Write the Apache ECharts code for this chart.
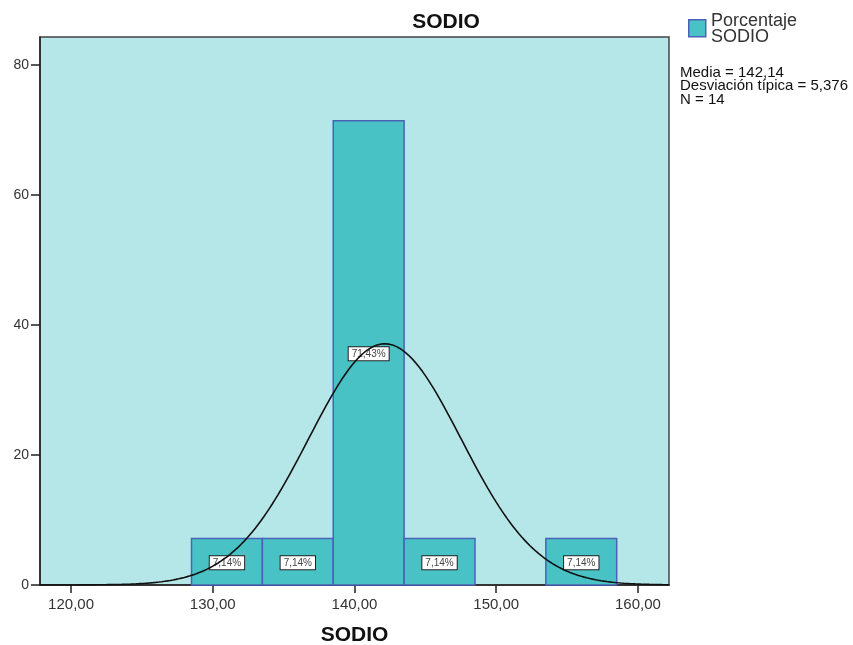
<!DOCTYPE html>
<html>
<head>
<meta charset="utf-8">
<script src="https://cdn.jsdelivr.net/npm/echarts@6/dist/echarts.min.js"></script>
<style>
  html, body { margin: 0; padding: 0; background: #ffffff; }
  #chart { width: 853px; height: 645px; }
</style>
</head>
<body>
<div id="chart"></div>
<script>
// Histogram of SODIO (percentages per bin of width 5) with a fitted normal curve
const binStarts = [128.5, 133.5, 138.5, 143.5, 153.5];
const binWidth = 5;
const percentages = [7.14, 7.14, 71.43, 7.14, 7.14];
const binLabels = ['7,14%', '7,14%', '71,43%', '7,14%', '7,14%'];
const xTicks = [120, 130, 140, 150, 160];
const yTicks = [0, 20, 40, 60, 80];
const MEDIA = 142.14;
const DESV = 5.376;
const N = 14;
const statsLines = ['Media = 142,14', 'Desviación típica = 5,376', 'N = 14'];

// Normal density scaled to percent-per-bin, using the stated mean and deviation
const curve = [];
for (let x = 117.8; x <= 162.2; x += 0.2) {
  const z = (x - MEDIA) / DESV;
  const y = 100 * binWidth * Math.exp(-0.5 * z * z) / (DESV * Math.sqrt(2 * Math.PI));
  curve.push([x, y]);
}

const FONT = '"Liberation Sans", Arial, sans-serif';
const chart = echarts.init(document.getElementById('chart'), null, { renderer: 'canvas' });

chart.setOption({
  animation: false,
  backgroundColor: '#ffffff',
  title: {
    text: 'SODIO',
    left: 441, top: 7, textAlign: 'center',
    textStyle: { fontFamily: FONT, fontSize: 21, fontWeight: 'bold', color: '#111' }
  },
  grid: {
    left: 40, top: 37, width: 629, height: 548,
    outerBoundsMode: 'none', containLabel: false,
    show: true, backgroundColor: '#B5E6E8', borderColor: '#444', borderWidth: 1.5
  },
  xAxis: {
    type: 'value', min: 117.81, max: 162.19,
    name: 'SODIO', nameLocation: 'middle', nameGap: 40,
    nameTextStyle: { fontFamily: FONT, fontSize: 21, fontWeight: 'bold', color: '#111' },
    splitLine: { show: false },
    axisLine: { show: true, onZero: false, lineStyle: { color: '#222', width: 1.5 } },
    axisTick: { show: true, length: 8, customValues: xTicks, lineStyle: { color: '#222', width: 1.5 } },
    axisLabel: {
      customValues: xTicks, margin: 12,
      fontFamily: FONT, fontSize: 15, color: '#333',
      formatter: v => v.toFixed(2).replace('.', ',')
    }
  },
  yAxis: {
    type: 'value', min: 0, max: 84.3,
    splitLine: { show: false },
    axisLine: { show: true, lineStyle: { color: '#222', width: 1.5 } },
    axisTick: { show: true, length: 9, customValues: yTicks, lineStyle: { color: '#222', width: 1.5 } },
    axisLabel: { customValues: yTicks, margin: 11, fontFamily: FONT, fontSize: 14, color: '#333' }
  },
  series: [
    {
      type: 'custom',
      data: binStarts.map((s, i) => [s, s + binWidth, percentages[i], binLabels[i]]),
      encode: { x: [0, 1], y: 2 },
      renderItem: function (params, api) {
        const p0 = api.coord([api.value(0), api.value(2)]);
        const p1 = api.coord([api.value(1), 0]);
        const mid = api.coord([api.value(0), api.value(2) / 2]);
        const cx = (p0[0] + p1[0]) / 2;
        return {
          type: 'group',
          children: [
            {
              type: 'rect',
              shape: { x: p0[0], y: p0[1], width: p1[0] - p0[0], height: p1[1] - p0[1] },
              style: { fill: '#48C2C5', stroke: '#4A62B8', lineWidth: 1.5 }
            },
            {
              type: 'text',
              x: cx, y: mid[1] + 1, z2: 10,
              style: {
                text: api.value(3),
                align: 'center', verticalAlign: 'middle',
                fontFamily: FONT, fontSize: 10, fill: '#444',
                backgroundColor: '#ffffff', borderColor: '#222', borderWidth: 1,
                padding: [2, 3, 1, 3]
              }
            }
          ]
        };
      },
      z: 2
    },
    {
      type: 'line',
      data: curve,
      showSymbol: false,
      symbol: 'none',
      smooth: false,
      lineStyle: { color: '#111', width: 1.6 },
      z: 3
    }
  ],
  graphic: [
    {
      type: 'rect', left: 688, top: 19,
      shape: { width: 17, height: 17 },
      style: { fill: '#48C2C5', stroke: '#4A62B8', lineWidth: 1.5 }
    },
    {
      type: 'text', left: 711, top: 12,
      style: { text: 'Porcentaje\nSODIO', fontFamily: FONT, fontSize: 18, lineHeight: 16, fill: '#333' }
    },
    {
      type: 'text', left: 680, top: 65,
      style: { text: statsLines.join('\n'), fontFamily: FONT, fontSize: 15, lineHeight: 13.5, fill: '#111' }
    }
  ]
});
</script>
</body>
</html>
